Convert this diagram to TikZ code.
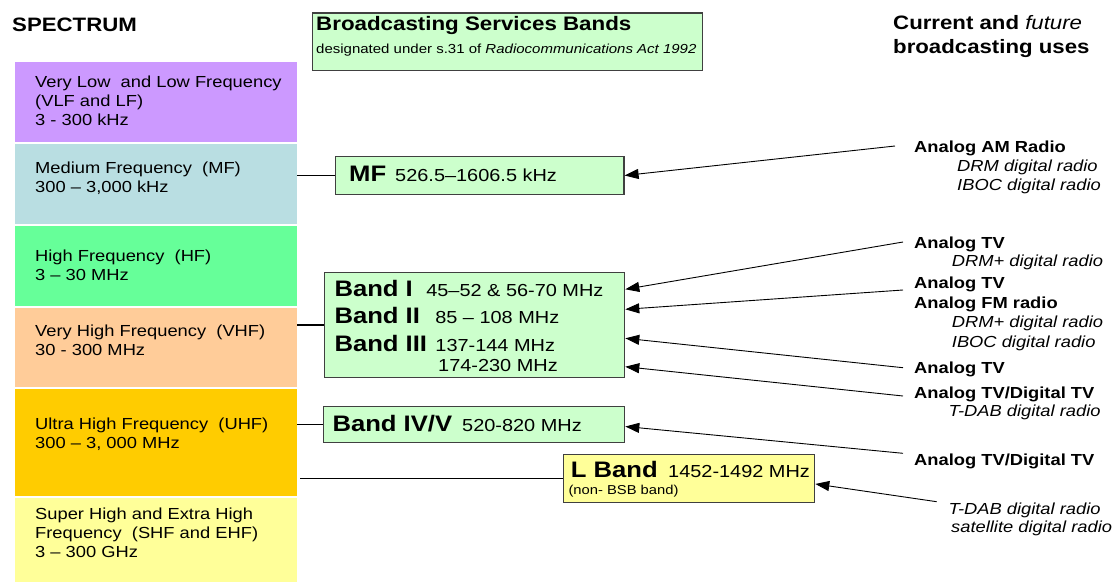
\documentclass[tikz,border=0pt]{standalone}
\usepackage{fontspec}
\setmainfont{Liberation Sans}[FakeStretch=1.145]
\usetikzlibrary{arrows.meta}
\newcommand\fsz[2]{\fontsize{#1}{#2}\selectfont}
\newcommand\lns[1]{\begin{tabular}[t]{@{}l@{}}#1\end{tabular}}
\newcommand\bb{\bfseries\fsz{22.4}{26}}
\newcommand\rr{\mdseries\fsz{17.4}{20}}
\definecolor{cvlf}{HTML}{CC99FF}
\definecolor{cmf}{HTML}{B9DEE2}
\definecolor{chf}{HTML}{66FF99}
\definecolor{cvhf}{HTML}{FFCC99}
\definecolor{cuhf}{HTML}{FFCC00}
\definecolor{cshf}{HTML}{FFFF99}
\definecolor{bandgreen}{HTML}{CCFFCC}
\definecolor{lyellow}{HTML}{FFFF99}
\definecolor{boxline}{HTML}{404040}
\tikzset{
  specbox/.style={draw=none, minimum width=282, inner sep=0, anchor=north west},
  spectext/.style={font=\fsz{16}{19}, anchor=base west, inner sep=0},
  bandbox/.style={draw=boxline, line width=1.3pt, fill=bandgreen, inner sep=0, anchor=north west},
  txt/.style={anchor=base west, inner sep=0},
  usebold/.style={font=\bfseries\fsz{16}{19}, anchor=base west, inner sep=0},
  useit/.style={font=\itshape\fsz{16}{19}, anchor=base west, inner sep=0},
  conn/.style={line width=1.2pt},
  arr/.style={line width=0.9pt, -{Triangle[length=14pt,width=10pt]}}
}
\begin{document}
\begin{tikzpicture}[x=1pt,y=-1pt]
\useasboundingbox (0,0) rectangle (1115,581);
% titles
\node[txt, font=\bfseries\fsz{19.4}{23}] (spectitle) at (12,31.7) {SPECTRUM};
\node[bandbox, minimum width=390, minimum height=57.7] (hdr) at (311.7,12.3) {};
\node[txt, font=\bfseries\fsz{19.5}{23}] (hdrt) at (316,30) {Broadcasting Services Bands};
\node[txt, font=\fsz{13.1}{16}] (hdrs) at (316,53.3) {designated under s.31 of \textit{Radiocommunications Act 1992}};
\node[txt, font=\bfseries\fsz{19.4}{23}] (usetitle) at (893,29) {\lns{Current and \textit{\mdseries future}\\[1pt]broadcasting uses}};
% spectrum column
\node[specbox, fill=cvlf, minimum height=79.5] (vlf) at (15,62) {};
\node[specbox, fill=cmf, minimum height=80.5] (mfs) at (15,143.5) {};
\node[specbox, fill=chf, minimum height=79.5] (hf) at (15,226) {};
\node[specbox, fill=cvhf, minimum height=79.5] (vhf) at (15,307.5) {};
\node[specbox, fill=cuhf, minimum height=106.5] (uhf) at (15,389) {};
\node[specbox, fill=cshf, minimum height=84] (shf) at (15,497.5) {};
\node[spectext] (vlft) at (35,87.3) {\lns{Very Low\ \ and Low Frequency\\(VLF and LF)\\3 - 300 kHz}};
\node[spectext] (mft) at (35,173.3) {\lns{Medium Frequency\ \ (MF)\\300 – 3,000 kHz}};
\node[spectext] (hft) at (35,261) {\lns{High Frequency\ \ (HF)\\3 – 30 MHz}};
\node[spectext] (vhft) at (35,336.7) {\lns{Very High Frequency\ \ (VHF)\\30 - 300 MHz}};
\node[spectext] (uhft) at (35,429.3) {\lns{Ultra High Frequency\ \ (UHF)\\300 – 3, 000 MHz}};
\node[spectext] (shft) at (35,519.3) {\lns{Super High and Extra High\\Frequency\ \ (SHF and EHF)\\3 – 300 GHz}};
% band boxes
\node[bandbox, minimum width=288.3, minimum height=38.3] (mf) at (335,155.7) {};
\node[txt] (mft2) at (349,181.7) {\bb MF\hspace{9pt}\rr 526.5–1606.5 kHz};
\node[bandbox, minimum width=300, minimum height=105.3] (bands) at (324,271.7) {};
\node[txt] (b1) at (334.3,296.7) {\bb Band I\hspace{13.4pt}\rr 45–52 \& 56-70 MHz};
\node[txt] (b2) at (334.3,323.3) {\bb Band II\hspace{15.3pt}\rr 85 – 108 MHz};
\node[txt] (b3) at (334.3,351) {\bb Band III\hspace{8.3pt}\rr 137-144 MHz};
\node[txt, font=\rr] (b3b) at (438,371.7) {174-230 MHz};
\node[bandbox, minimum width=301.3, minimum height=36.3] (b45) at (322.7,405.7) {};
\node[txt] (b45t) at (332.3,431.7) {\bb Band IV/V\hspace{10pt}\rr 520-820 MHz};
\node[bandbox, fill=lyellow, minimum width=251.3, minimum height=48] (lband) at (562.7,454) {};
\node[txt] (lbt) at (570.7,477.3) {\bb L Band\hspace{10.4pt}\rr 1452-1492 MHz};
\node[txt, font=\fsz{12.9}{15}] (lbs) at (568.3,494.5) {(non- BSB band)};
% connectors spectrum -> bands
\draw[conn] (mfs.east |- mf.west) -- (mf.west);
\draw[conn] (vhf.east |- bands.west) -- (bands.west);
\draw[conn] (uhf.east |- b45.west) -- (b45.west);
\draw[conn] ([xshift=3pt]uhf.east |- lband.west) -- (lband.west);
% right labels
\node[usebold] (u1) at (914,152.7) {Analog AM Radio};
\node[useit] (u1a) at (957,171.7) {DRM digital radio};
\node[useit] (u1b) at (957,190.7) {IBOC digital radio};
\node[usebold] (u2) at (914,248.3) {Analog TV};
\node[useit] (u2a) at (951.7,266.7) {DRM+ digital radio};
\node[usebold] (u3) at (914,288.7) {Analog TV};
\node[usebold] (u3b) at (914,308.3) {Analog FM radio};
\node[useit] (u3c) at (951.7,327.3) {DRM+ digital radio};
\node[useit] (u3d) at (951.7,347.3) {IBOC digital radio};
\node[usebold] (u4) at (914,373.3) {Analog TV};
\node[usebold] (u5) at (914,398.3) {Analog TV/Digital TV};
\node[useit] (u5a) at (948.3,416.7) {T-DAB digital radio};
\node[usebold] (u6) at (914,465.7) {Analog TV/Digital TV};
\node[useit] (u7) at (948.3,514) {T-DAB digital radio};
\node[useit] (u7b) at (951,532.7) {satellite digital radio};
% arrow end points
\coordinate (s1) at (895,146);
\coordinate (s2) at (903,242);
\coordinate (s3) at (903,290);
\coordinate (s4) at (903,367.7);
\coordinate (s5) at (903,396);
\coordinate (s6) at (903,453.3);
\coordinate (s7) at (936.7,501.7);
\coordinate (t1) at ([yshift=-17.6pt]bands.north east);
\coordinate (t2) at ([yshift=-37.6pt]bands.north east);
\coordinate (t3) at ([yshift=-66.6pt]bands.north east);
\coordinate (t4) at ([yshift=-95pt]bands.north east);
\draw[arr] (s1) -- (mf.east);
\draw[arr] (s2) -- (t1);
\draw[arr] (s3) -- (t2);
\draw[arr] (s4) -- (t3);
\draw[arr] (s5) -- (t4);
\draw[arr] (s6) -- ([yshift=-2pt]b45.east);
\draw[arr] (s7) -- ([yshift=-5.3pt]lband.east);
\end{tikzpicture}
\end{document}
